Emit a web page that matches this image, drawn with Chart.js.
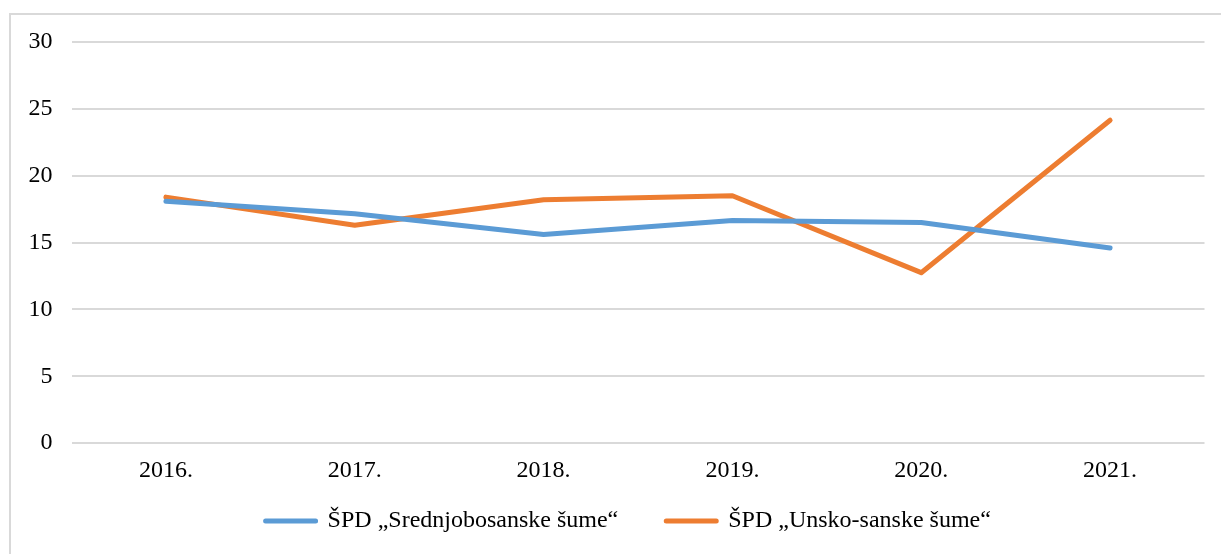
<!DOCTYPE html>
<html>
<head>
<meta charset="utf-8">
<script src="https://cdn.jsdelivr.net/npm/chart.js@4/dist/chart.umd.min.js"></script>
<style>
    html, body { margin: 0; padding: 0; background: #fff; overflow: hidden; }
    #wrap { position: relative; width: 1221px; height: 554px; }
    #frame {
        position: absolute; left: 9px; top: 13px; width: 1240px; height: 600px;
        border-top: 2px solid #d9d9d9; border-left: 2px solid #d9d9d9;
        box-sizing: border-box;
    }
    canvas { position: absolute; left: 0; top: 0; }
</style>
</head>
<body>
<div id="wrap">
    <div id="frame"></div>
    <canvas id="chart" width="1221" height="554"></canvas>
</div>
<script>
// Datos
const years = ['2016.', '2017.', '2018.', '2019.', '2020.', '2021.'];
const srednjobosanske = [18.1, 17.15, 15.6, 16.65, 16.5, 14.6];
const unskoSanske = [18.4, 16.3, 18.2, 18.5, 12.75, 24.15];
const seriesNames = ['ŠPD „Srednjobosanske šume“', 'ŠPD „Unsko-sanske šume“'];
const yTicks = [0, 5, 10, 15, 20, 25, 30];

const serif = '"Liberation Serif", "Times New Roman", serif';

// mover la leyenda un poco (como en el original)
const legendNudge = {
    id: 'legendNudge',
    afterLayout: function (chart) {
        const l = chart.legend;
        if (!l) return;
        l.left += 26; l.right += 26;
        l.top -= 37; l.bottom -= 37;
    }
};

function lineSet(label, data, color) {
    return {
        label: label,
        data: data,
        borderColor: color,
        backgroundColor: color,
        borderWidth: 5,
        borderCapStyle: 'round',
        borderJoinStyle: 'round',
        pointRadius: 0,
        tension: 0
    };
}

new Chart(document.getElementById('chart'), {
    type: 'line',
    data: {
        labels: years,
        datasets: [
            lineSet(seriesNames[0], srednjobosanske, '#5B9BD5'),
            lineSet(seriesNames[1], unskoSanske, '#ED7D31')
        ]
    },
    options: {
        responsive: false,
        animation: false,
        layout: { padding: { left: 0, right: 16.5, top: 42, bottom: -26 } },
        scales: {
            x: {
                offset: true,
                grid: { display: false, drawTicks: false },
                border: { display: false },
                ticks: { color: '#000', font: { family: serif, size: 24 }, padding: 13 }
            },
            y: {
                min: 0,
                max: 30,
                afterFit: function (scale) { scale.width = 71.5; },
                afterBuildTicks: function (scale) {
                    scale.ticks = yTicks.map(function (v) { return { value: v }; });
                },
                grid: { color: '#d9d9d9', lineWidth: 2, drawTicks: false },
                border: { display: false },
                ticks: { color: '#000', font: { family: serif, size: 24 }, padding: 19 }
            }
        },
        plugins: {
            legend: {
                position: 'bottom',
                labels: {
                    color: '#000',
                    font: { family: serif, size: 24 },
                    boxWidth: 50,
                    boxHeight: 0,
                    padding: 48
                }
            },
            tooltip: { enabled: false }
        }
    },
    plugins: [legendNudge]
});
</script>
</body>
</html>
